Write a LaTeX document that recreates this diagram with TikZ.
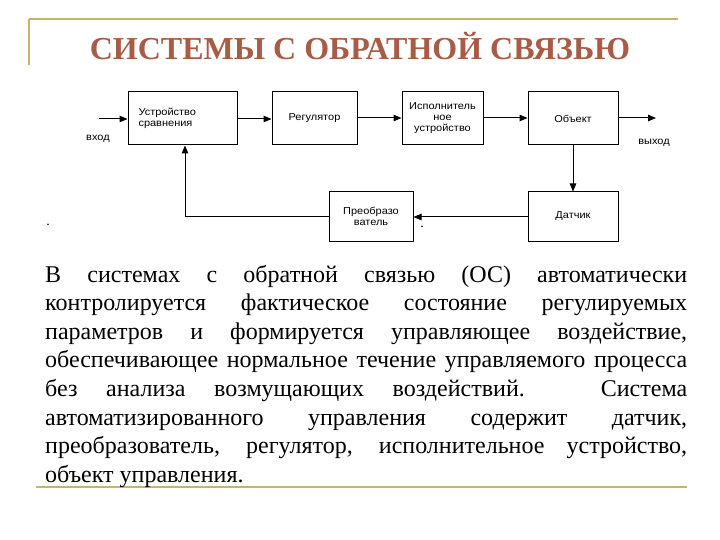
\documentclass[tikz,border=0pt]{standalone}
\usepackage{fontspec}
\setmainfont{Liberation Serif}
\newfontfamily\diagfont[FakeStretch=1.1]{Liberation Sans}
\usetikzlibrary{arrows.meta}
\definecolor{gold}{HTML}{C9B26B}
\definecolor{titlebrown}{HTML}{A95C45}
\tikzset{
  blk/.style={draw=black, line width=1pt, minimum height=53pt, font=\diagfont\fontsize{10}{11}\selectfont, align=center, inner sep=2pt},
  conn/.style={line width=1pt, -{Triangle[length=8pt,width=6.5pt]}},
  lbl/.style={font=\diagfont\fontsize{10}{12}\selectfont},
  bodyline/.style={anchor=base west, inner sep=0pt, font=\fontsize{24}{28}\selectfont}
}
\begin{document}
\begin{tikzpicture}[x=1pt,y=-1pt]
\useasboundingbox (0,0) rectangle (720,540);
% decorative gold lines
\draw[gold, line width=2pt] (29,19) -- (678,19);
\draw[gold, line width=2pt] (29,19) -- (29,65);
\draw[gold, line width=2pt] (36,487) -- (687,487);
% title
\node[anchor=base, inner sep=0pt, text=titlebrown, font=\bfseries\fontsize{32}{38}\selectfont] (title) at (360,59.5) {СИСТЕМЫ С ОБРАТНОЙ СВЯЗЬЮ};
% blocks
\node[blk, minimum width=109pt, align=left, text width=88pt] (cmp) at (182.5,118.5) {Устройство\\сравнения};
\node[blk, minimum width=85pt] (reg) at (314.5,118.5) {Регулятор};
\node[blk, minimum width=81pt] (act) at (442.5,118.5) {Исполнитель\\ное\\устройство};
\node[blk, minimum width=90pt] (obj) at (573,118.5) {Объект};
\node[blk, minimum width=90pt, minimum height=49pt] (sen) at (573,216.5) {Датчик};
\node[blk, minimum width=84pt, minimum height=49pt] (cnv) at (371,216.5) {Преобразо\\ватель};
% input / output
\coordinate (in) at (99,119);
\coordinate (out) at (656,118);
\coordinate (fb) at (185,217);
\node[lbl] (inl) at (98,139) {вход};
\node[lbl] (outl) at (654,143) {выход};
\draw[conn] (in) -- (cmp.west |- in);
\draw[conn] (cmp.east |- 0,119) -- (reg.west |- 0,119);
\draw[conn] (reg.east |- 0,118) -- (act.west |- 0,118);
\draw[conn] (act.east |- 0,118) -- (obj.west |- 0,118);
\draw[conn] (obj.east |- out) -- (out);
\draw[conn] (obj.south) -- (sen.north);
\draw[conn] (sen.west |- 0,217) -- (cnv.east |- 0,217);
\draw[conn] (cnv.west |- fb) -- (fb) -- (cmp.south -| fb);
% stray dots
\node[font=\fontsize{14}{14}\selectfont, inner sep=0pt] (d1) at (48,225) {.};
\node[font=\fontsize{14}{14}\selectfont, inner sep=0pt] (d2) at (422,227) {.};
% body text
\node[bodyline] (l1) at (45,282) {\makebox[642pt][s]{В системах с обратной связью (ОС) автоматически}};
\node[bodyline] (l2) at (45,310.6) {\makebox[642pt][s]{контролируется фактическое состояние регулируемых}};
\node[bodyline] (l3) at (45,339.2) {\makebox[642pt][s]{параметров и формируется управляющее воздействие,}};
\node[bodyline] (l4) at (45,367.8) {\makebox[642pt][s]{обеспечивающее нормальное течение управляемого процесса}};
\node[bodyline] (l5) at (45,396.4) {\makebox[642pt][s]{без анализа возмущающих воздействий. Система}};
\node[bodyline] (l6) at (45,425) {\makebox[642pt][s]{автоматизированного управления содержит датчик,}};
\node[bodyline] (l7) at (45,453.6) {\makebox[642pt][s]{преобразователь, регулятор, исполнительное устройство,}};
\node[bodyline] (l8) at (45,482.2) {объект управления.};
\end{tikzpicture}
\end{document}
